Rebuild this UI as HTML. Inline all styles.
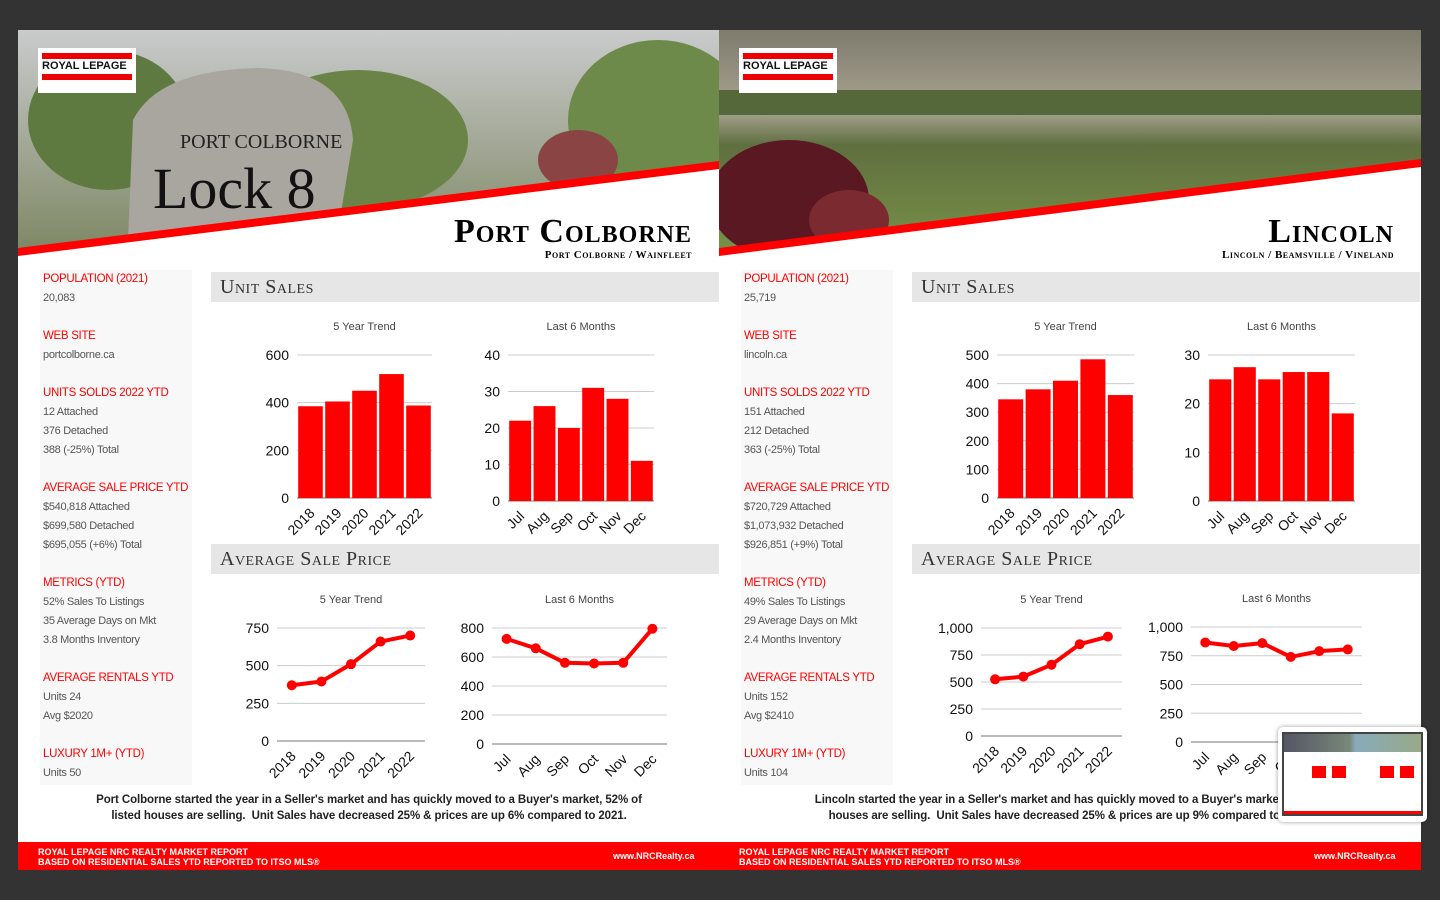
<!DOCTYPE html>
<html><head><meta charset="utf-8"><title>Market Report</title>
<style>
body{margin:0;width:1440px;height:900px;background:#333;overflow:hidden;font-family:"Liberation Sans",sans-serif;position:relative}
.abs{position:absolute}
.page{position:absolute;top:30px;width:701px;height:840px;background:#fff;overflow:hidden}
.side{position:absolute;left:22px;top:240px;width:152px;height:515px;background:#f8f8f8}
.side div{font-size:11px;color:#555;padding-left:3px;height:19px;line-height:19px;letter-spacing:-0.3px}
.side .h{color:#f00;font-size:11.5px;margin-top:0}
.sec{position:absolute;left:193px;width:508px;height:30px;background:#e6e6e6;font-family:"Liberation Serif",serif;font-variant:small-caps;font-size:20px;color:#333;line-height:30px;padding-left:9px;box-sizing:border-box;letter-spacing:0.5px}
.title{position:absolute;right:27px;top:185px;text-align:right;font-family:"Liberation Serif",serif;font-variant:small-caps;color:#000}
.title .t1{font-size:34px;font-weight:bold;line-height:34px;letter-spacing:1px}
.title .t2{font-size:11px;font-weight:bold;letter-spacing:0.5px}
.summary{position:absolute;left:31px;width:640px;top:762px;text-align:center;font-size:11.5px;font-weight:bold;color:#222;line-height:16px;letter-spacing:-0.1px}
.foot{position:absolute;left:0;top:812px;width:701px;height:28px;background:#f00;color:#fff;font-size:9px;font-weight:bold;line-height:10px}
.logo{position:absolute;left:20px;top:18px;width:98px;height:45px;background:#fff}
</style></head><body>
<div class="page" style="left:18px">
 <svg class="abs" style="left:0;top:0" width="701" height="230">
  <defs><linearGradient id="g1" x1="0" y1="0" x2="0" y2="1"><stop offset="0" stop-color="#c9cbcc"/><stop offset="1" stop-color="#7b8560"/></linearGradient></defs>
  <rect width="701" height="230" fill="url(#g1)"/>
  <ellipse cx="90" cy="90" rx="80" ry="70" fill="#5f7a40"/><ellipse cx="340" cy="110" rx="110" ry="70" fill="#6a8448"/><ellipse cx="640" cy="90" rx="90" ry="80" fill="#6d8a4a"/><ellipse cx="560" cy="130" rx="40" ry="30" fill="#8a4444"/>
  <path d="M110 210 L115 90 Q140 40 240 38 Q330 40 335 110 L320 200 Z" fill="#a8a69f"/>
  <text x="162" y="118" font-family="Liberation Serif" font-size="20" fill="#222">PORT COLBORNE</text>
  <text x="135" y="178" font-family="Liberation Serif" font-size="58" fill="#111">Lock 8</text>
  <polygon points="0,218 701,131 701,230 0,230" fill="#f00"/>
  <polygon points="0,226 701,139 701,230 0,230" fill="#fff"/>
 </svg>
 <div class="logo"><div class="abs" style="left:4px;top:5px;width:90px;height:6px;background:#e00"></div><div class="abs" style="left:4px;top:12px;font-size:11px;font-weight:bold;color:#111">ROYAL LEPAGE</div><div class="abs" style="left:4px;top:26px;width:90px;height:6px;background:#e00"></div></div>
 <div class="title"><div class="t1">Port Colborne</div><div class="t2">Port Colborne / Wainfleet</div></div>
 <div class="side">
  <div class="h">POPULATION (2021)</div><div>20,083</div><div style="height:19px"></div>
  <div class="h">WEB SITE</div><div>portcolborne.ca</div><div></div>
  <div class="h">UNITS SOLDS 2022 YTD</div><div>12 Attached</div><div>376 Detached</div><div>388 (-25%) Total</div><div></div>
  <div class="h">AVERAGE SALE PRICE YTD</div><div>$540,818 Attached</div><div>$699,580 Detached</div><div>$695,055 (+6%) Total</div><div></div>
  <div class="h">METRICS (YTD)</div><div>52% Sales To Listings</div><div>35 Average Days on Mkt</div><div>3.8 Months Inventory</div><div></div>
  <div class="h">AVERAGE RENTALS YTD</div><div>Units 24</div><div>Avg $2020</div><div></div>
  <div class="h">LUXURY 1M+ (YTD)</div><div>Units 50</div>
 </div>
 <div class="sec" style="top:242px">Unit Sales</div>
 <div class="sec" style="top:514px">Average Sale Price</div>
 <div class="summary">Port Colborne started the year in a Seller's market and has quickly moved to a Buyer's market, 52% of<br>listed houses are selling.&nbsp; Unit Sales have decreased 25% &amp; prices are up 6% compared to 2021.</div>
 <div class="foot"><div class="abs" style="left:20px;top:5px">ROYAL LEPAGE NRC REALTY MARKET REPORT<br>BASED ON RESIDENTIAL SALES YTD REPORTED TO ITSO MLS®</div><div class="abs" style="left:595px;top:9px">www.NRCRealty.ca</div></div>
</div>
<div class="page" style="left:719px;width:702px">
 <svg class="abs" style="left:0;top:0" width="702" height="230">
  <defs><linearGradient id="g2" x1="0" y1="0" x2="0" y2="1"><stop offset="0" stop-color="#7e7a6c"/><stop offset="0.35" stop-color="#a9a493"/><stop offset="0.5" stop-color="#5f6f3f"/><stop offset="1" stop-color="#7a944a"/></linearGradient></defs>
  <rect width="702" height="230" fill="url(#g2)"/>
  <rect x="0" y="60" width="702" height="25" fill="#55683a"/>
  <ellipse cx="70" cy="170" rx="80" ry="60" fill="#5a1822"/><ellipse cx="130" cy="190" rx="40" ry="30" fill="#7b2a30"/>
  <polygon points="0,218 702,129 702,230 0,230" fill="#f00"/>
  <polygon points="0,226 702,137 702,230 0,230" fill="#fff"/>
 </svg>
 <div class="logo"><div class="abs" style="left:4px;top:5px;width:90px;height:6px;background:#e00"></div><div class="abs" style="left:4px;top:12px;font-size:11px;font-weight:bold;color:#111">ROYAL LEPAGE</div><div class="abs" style="left:4px;top:26px;width:90px;height:6px;background:#e00"></div></div>
 <div class="title"><div class="t1">Lincoln</div><div class="t2">Lincoln / Beamsville / Vineland</div></div>
 <div class="side">
  <div class="h">POPULATION (2021)</div><div>25,719</div><div style="height:19px"></div>
  <div class="h">WEB SITE</div><div>lincoln.ca</div><div></div>
  <div class="h">UNITS SOLDS 2022 YTD</div><div>151 Attached</div><div>212 Detached</div><div>363 (-25%) Total</div><div></div>
  <div class="h">AVERAGE SALE PRICE YTD</div><div>$720,729 Attached</div><div>$1,073,932 Detached</div><div>$926,851 (+9%) Total</div><div></div>
  <div class="h">METRICS (YTD)</div><div>49% Sales To Listings</div><div>29 Average Days on Mkt</div><div>2.4 Months Inventory</div><div></div>
  <div class="h">AVERAGE RENTALS YTD</div><div>Units 152</div><div>Avg $2410</div><div></div>
  <div class="h">LUXURY 1M+ (YTD)</div><div>Units 104</div>
 </div>
 <div class="sec" style="top:242px">Unit Sales</div>
 <div class="sec" style="top:514px">Average Sale Price</div>
 <div class="summary">Lincoln started the year in a Seller's market and has quickly moved to a Buyer's market, 49% of<br>houses are selling.&nbsp; Unit Sales have decreased 25% &amp; prices are up 9% compared to 2021.</div>
 <div class="foot" style="width:702px"><div class="abs" style="left:20px;top:5px">ROYAL LEPAGE NRC REALTY MARKET REPORT<br>BASED ON RESIDENTIAL SALES YTD REPORTED TO ITSO MLS®</div><div class="abs" style="left:595px;top:9px">www.NRCRealty.ca</div></div>
</div>
<svg id="charts" class="abs" style="left:0;top:0" width="1440" height="900"></svg>
<div class="abs" style="left:1278px;top:727px;width:149px;height:95px;background:#fff;border-radius:5px;box-shadow:0 0 4px #0006">
 <div class="abs" style="left:4px;top:5px;width:141px;height:84px;background:#fff;border:2px solid #444;box-sizing:border-box">
  <div class="abs" style="left:0;top:0;width:137px;height:18px;background:linear-gradient(90deg,#556 0,#787 48%,#8ab 52%,#9a8 100%)"></div>
  <div class="abs" style="left:28px;top:32px;width:14px;height:12px;background:#f00"></div><div class="abs" style="left:48px;top:32px;width:14px;height:12px;background:#f00"></div>
  <div class="abs" style="left:96px;top:32px;width:14px;height:12px;background:#f00"></div><div class="abs" style="left:116px;top:32px;width:14px;height:12px;background:#f00"></div>
  <div class="abs" style="left:0;top:77px;width:137px;height:3px;background:#f00"></div>
 </div>
</div>
<script>
const NS='http://www.w3.org/2000/svg';
const svg=document.getElementById('charts');
// Port Colborne data
const yearCats=['2018','2019','2020','2021','2022'];
const monthCats=['Jul','Aug','Sep','Oct','Nov','Dec'];
const pcUnitsYear=[385,405,450,520,388];
const pcUnitsMonth=[22,26,20,31,28,11];
const pcPriceYear=[370,395,510,660,700];
const pcPriceMonth=[725,660,560,555,560,795];
// Lincoln data
const lnUnitsYear=[345,380,410,485,360];
const lnUnitsMonth=[25,27.5,25,26.5,26.5,18];
const lnPriceYear=[525,550,660,850,920];
const lnPriceMonth=[865,835,860,740,790,805];
// tick labels
const ticksU600=['0','200','400','600'];
const ticksU40=['0','10','20','30','40'];
const ticksP750=['0','250','500','750'];
const ticksP800=['0','200','400','600','800'];
const ticksU500=['0','100','200','300','400','500'];
const ticksU30=['0','10','20','30'];
const ticksP1000=['0','250','500','750','1,000'];

function el(tag,attrs,parent){const e=document.createElementNS(NS,tag);for(const k in attrs)e.setAttribute(k,attrs[k]);(parent||svg).appendChild(e);return e;}
function chart(o){
  const g=el('g',{});
  
  
  const max=parseFloat(o.ticks[o.ticks.length-1].replace(',',''));
  const y=v=>o.y0-(v/max)*(o.y0-o.y1);
  const band=(o.x1-o.x0)/o.cats.length;
  const cx=i=>o.x0+band*(i+0.5);
  const tt=el('text',{x:(o.x0+o.x1)/2,y:o.y1-25,'text-anchor':'middle','font-size':11,fill:'#444'},g);tt.textContent=o.title;
  o.ticks.forEach(t=>{const v=parseFloat(t.replace(',',''));const yy=y(v);
    el('line',{x1:o.x0,x2:o.x1,y1:yy,y2:yy,stroke:v===0?'#777':'#ccc','stroke-width':1},g);
    const tx=el('text',{x:o.x0-8,y:yy+5,'text-anchor':'end','font-size':14,fill:'#111'},g);tx.textContent=t;});
  o.cats.forEach((c,i)=>{const lx=cx(i)+5,ly=o.y0+16;const t=el('text',{x:lx,y:ly,'text-anchor':'end','font-size':14,fill:'#111',transform:`rotate(-45 ${lx} ${ly})`},g);t.textContent=c;});
  if(o.type==='bar'){
    o.vals.forEach((v,i)=>{const r=el('rect',{x:cx(i)-band/2+1.2,y:y(v),width:band-2.4,height:o.y0-y(v),fill:'#f00'},g);
      
      });
  }else{
    el('polyline',{points:o.vals.map((v,i)=>cx(i)+','+y(v)).join(' '),fill:'none',stroke:'#f00','stroke-width':4,'stroke-linejoin':'round'},g);
    o.vals.forEach((v,i)=>{const c=el('circle',{cx:cx(i),cy:y(v),r:5,fill:'#f00'},g);
      
      });
  }
}
chart({name:'pc-units-5yr',type:'bar',title:'5 Year Trend',x0:297,x1:432,y0:498,y1:355,ticks:ticksU600,cats:yearCats,vals:pcUnitsYear});
chart({name:'pc-units-6mo',type:'bar',title:'Last 6 Months',x0:508,x1:654,y0:501,y1:355,ticks:ticksU40,cats:monthCats,vals:pcUnitsMonth});
chart({name:'pc-price-5yr',type:'line',title:'5 Year Trend',x0:277,x1:425,y0:741,y1:628,ticks:ticksP750,cats:yearCats,vals:pcPriceYear});
chart({name:'pc-price-6mo',type:'line',title:'Last 6 Months',x0:492,x1:667,y0:744,y1:628,ticks:ticksP800,cats:monthCats,vals:pcPriceMonth});
chart({name:'ln-units-5yr',type:'bar',title:'5 Year Trend',x0:997,x1:1134,y0:498,y1:355,ticks:ticksU500,cats:yearCats,vals:lnUnitsYear});
chart({name:'ln-units-6mo',type:'bar',title:'Last 6 Months',x0:1208,x1:1355,y0:501,y1:355,ticks:ticksU30,cats:monthCats,vals:lnUnitsMonth});
chart({name:'ln-price-5yr',type:'line',title:'5 Year Trend',x0:981,x1:1122,y0:736,y1:628,ticks:ticksP1000,cats:yearCats,vals:lnPriceYear});
chart({name:'ln-price-6mo',type:'line',title:'Last 6 Months',x0:1191,x1:1362,y0:742,y1:627,ticks:ticksP1000,cats:monthCats,vals:lnPriceMonth});
</script>
</body></html>
